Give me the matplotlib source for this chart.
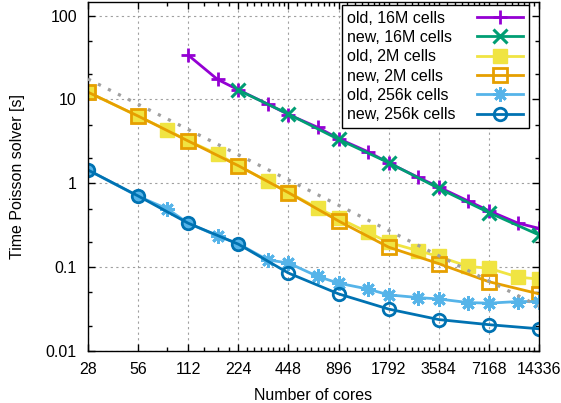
import matplotlib
matplotlib.use("Agg")
import matplotlib.pyplot as plt
from matplotlib.ticker import FixedLocator, NullFormatter, LogLocator

plt.rcParams['font.family'] = ['Liberation Sans', 'DejaVu Sans']
plt.rcParams['font.size'] = 11.5

# core counts
cores_old = [28, 56, 84, 112, 168, 224, 336, 448, 672, 896, 1344, 1792,
             2688, 3584, 5376, 7168, 10752, 14336]
cores_new = [28, 56, 112, 224, 448, 896, 1792, 3584, 7168, 14336]
cores_old16 = [112, 168, 224, 336, 448, 672, 896, 1344, 1792, 2688, 3584,
               5376, 7168, 10752, 14336]
cores_new16 = [224, 448, 896, 1792, 3584, 7168, 14336]

# timings [s]
old_16M = [33.7, 17.3, 13.0, 8.8, 6.6, 4.64, 3.4, 2.38, 1.75, 1.18, 0.9,
           0.615, 0.47, 0.334, 0.29]
new_16M = [12.9, 6.68, 3.34, 1.76, 0.87, 0.447, 0.242]
old_2M = [12.2, 6.3, 4.3, 3.2, 2.23, 1.62, 1.05, 0.78, 0.504, 0.385, 0.26,
          0.197, 0.157, 0.134, 0.102, 0.097, 0.076, 0.072]
new_2M = [12.2, 6.33, 3.19, 1.62, 0.773, 0.355, 0.173, 0.11, 0.067, 0.048]
old_256k = [1.44, 0.70, 0.494, 0.334, 0.236, 0.19, 0.122, 0.112, 0.0774,
            0.0644, 0.0548, 0.0467, 0.0434, 0.0417, 0.0378, 0.0372, 0.0389,
            0.0389]
new_256k = [1.44, 0.706, 0.334, 0.188, 0.085, 0.048, 0.0316, 0.0237, 0.0206,
            0.0184]

# ideal scaling reference (end points)
ideal_x = [28, 14336]
ideal_y = [17.5, 0.0342]

xtick_vals = [28, 56, 112, 224, 448, 896, 1792, 3584, 7168, 14336]

fig = plt.figure(figsize=(5.61, 4.03), dpi=100)
ax = fig.add_axes([88/561, 52/403, 451/561, 349/403])

lw = 2.0
ax.plot(cores_old16, old_16M, color='#9400d3', lw=lw, marker='+', ms=10.5, mew=2,
        label='old, 16M cells')
ax.plot(cores_new16, new_16M, color='#009e73', lw=lw, marker='x', ms=10, mew=2.2,
        label='new, 16M cells')
ax.plot(cores_old, old_2M, color='#f0e442', lw=lw, marker='s', ms=10,
        label='old, 2M cells')
ax.plot(cores_new, new_2M, color='#e69f00', lw=lw, marker='s', ms=10, mew=2,
        mfc='none', label='new, 2M cells')
ax.plot(cores_old, old_256k, color='#56b4e9', lw=lw, marker=(8, 2, 0), ms=10.5,
        mew=2, label='old, 256k cells')
ax.plot(cores_new, new_256k, color='#0072b2', lw=lw, marker='o', ms=9, mew=2,
        mfc='none', label='new, 256k cells')
ax.plot(ideal_x, ideal_y, color='#a0a0a0', lw=2.3, ls=(0, (1.0, 2.5)), zorder=5)

ax.set_xscale('log', base=2)
ax.set_yscale('log')
ax.set_xlim(28, 14336)
ax.set_ylim(0.01, 145)

ax.xaxis.set_major_locator(FixedLocator(xtick_vals))
ax.set_xticklabels([str(v) for v in xtick_vals])
minor = []
for lo in xtick_vals[:-1]:
    n = min(lo // 28, 8)
    for k in range(1, n):
        minor.append(lo + lo * k / n)
ax.xaxis.set_minor_locator(FixedLocator(minor))
ax.xaxis.set_minor_formatter(NullFormatter())

ax.yaxis.set_minor_locator(LogLocator(base=10, subs=(2, 5), numticks=10))
ax.yaxis.set_minor_formatter(NullFormatter())
ax.set_yticks([0.01, 0.1, 1, 10, 100])
ax.set_yticklabels(['0.01', '0.1', '1', '10', '100'])

ax.tick_params(which='both', direction='in', top=True, right=True, width=1,
               labelsize=11.5, colors='black')
ax.tick_params(which='major', length=5, pad=8)
ax.tick_params(which='minor', length=3)
for s in ax.spines.values():
    s.set_linewidth(1.0)

ax.grid(which='major', color='#a0a0a0', ls=(0, (2, 3)), lw=0.8)

ax.set_xlabel('Number of cores', fontsize=11.5, labelpad=8)
ax.set_ylabel('Time Poisson solver [s]', fontsize=11.5, labelpad=15)

leg = ax.legend(loc='upper right', bbox_to_anchor=(0.978, 0.991),
                borderaxespad=0, markerfirst=False, numpoints=1,
                handlelength=2.9, handletextpad=1.35, labelspacing=0.27,
                fancybox=False, edgecolor='black', framealpha=1,
                fontsize=11.5, borderpad=0.35)
leg.get_frame().set_linewidth(1.0)
leg.set_zorder(10)

# gnuplot-like key: labels left aligned, samples on the right
fig.canvas.draw()
rend = fig.canvas.get_renderer()
texts = leg.get_texts()
widths = [t.get_window_extent(rend).width for t in texts]
wmax = max(widths)
for t, w in zip(texts, widths):
    t.set_x(-(wmax - w))

fig.savefig('out.png', dpi=100)
